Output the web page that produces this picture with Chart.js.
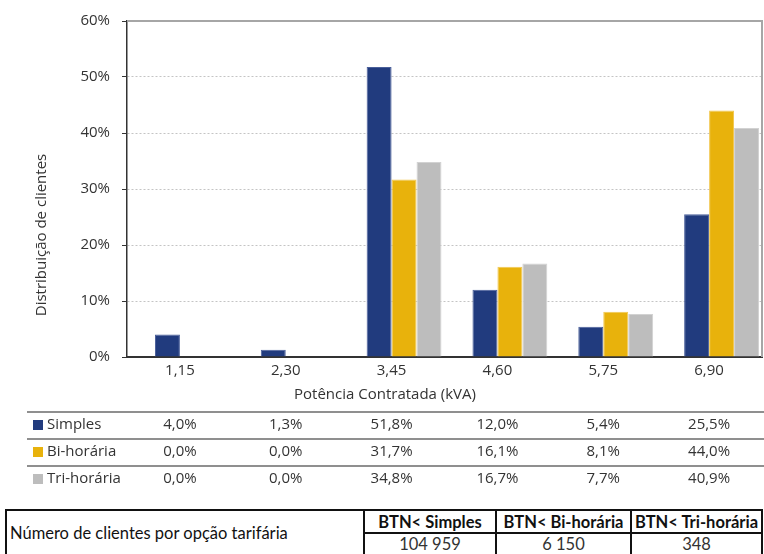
<!DOCTYPE html>
<html lang="pt">
<head>
<meta charset="utf-8">
<title>Distribuição de clientes por potência contratada</title>
<script src="https://cdn.jsdelivr.net/npm/chart.js@4.4.1/dist/chart.umd.min.js"></script>
<style>
  html, body { margin: 0; padding: 0; background: #fff; }
  #wrap { position: relative; width: 764px; height: 554px; overflow: hidden; }
  #grafico { position: absolute; left: 0; top: 0; }
  #clientes {
    position: absolute; left: 5px; top: 509px;
    width: 756px; table-layout: fixed;
    border-collapse: collapse;
    font-family: Lato, "Liberation Sans", sans-serif;
    font-size: 16.5px; color: #111;
  }
  #clientes td { border: 2px solid #111; padding: 0; text-align: center; }
  #clientes td.rotulo { text-align: left; padding-left: 3px; }
  #clientes tr.cab td { height: 21px; font-weight: bold; }
  #clientes tr.cab td.rotulo { font-weight: normal; }
  #clientes tr.val td { height: 20px; color: #333; }
</style>
</head>
<body>
<div id="wrap">
  <canvas id="grafico" width="764" height="500"></canvas>
  <table id="clientes"><colgroup><col style="width:358px"><col style="width:132px"><col style="width:135px"><col style="width:131px"></colgroup></table>
</div>
<script>
// Potência contratada (kVA)
const categorias = ["1,15", "2,30", "3,45", "4,60", "5,75", "6,90"];

// distribuição de clientes (%) por opção tarifária
const simples = [4.0, 1.3, 51.8, 12.0, 5.4, 25.5];
const biHoraria = [0.0, 0.0, 31.7, 16.1, 8.1, 44.0];
const triHoraria = [0.0, 0.0, 34.8, 16.7, 7.7, 40.9];

// coluna vazia que o Excel deixava antes de cada grupo
const vazio = [null, null, null, null, null, null];

const nomesSeries = ["Simples", "Bi-horária", "Tri-horária"];
const coresSeries = ["#213B7E", "#E8B20C", "#BDBDBD"];
const bordasSeries = ["#4A5F9A", "#F2C850", "#D2D2D2"];

const tarifas = ["BTN< Simples", "BTN< Bi-horária", "BTN< Tri-horária"];
const numeroClientes = [104959, 6150, 348];

const FONTE = "'Open Sans', 'DejaVu Sans', sans-serif";
const TAM = 15;
const COR_TEXTO = "#333";

const fmtPct = v => v.toFixed(1).replace(".", ",") + "%";
const fmtMilhar = n => String(n).replace(/\B(?=(\d{3})+(?!\d))/g, " ");

// títulos dos eixos, moldura e tabela de dados por baixo do eixo x
const tabelaDados = {
  id: "tabelaDados",
  afterDraw(chart) {
    const { ctx, chartArea, scales } = chart;
    const series = [simples, biHoraria, triHoraria];
    ctx.save();

    // moldura superior e direita
    ctx.strokeStyle = "#a6a6a6";
    ctx.lineWidth = 2;
    ctx.beginPath();
    ctx.moveTo(chartArea.left, chartArea.top);
    ctx.lineTo(chartArea.right, chartArea.top);
    ctx.lineTo(chartArea.right, chartArea.bottom);
    ctx.stroke();

    ctx.font = TAM + "px " + FONTE;
    ctx.fillStyle = COR_TEXTO;
    ctx.textAlign = "center";
    ctx.textBaseline = "middle";
    ctx.fillText("Potência Contratada (kVA)", 385, 395);

    ctx.save();
    ctx.translate(42, 235);
    ctx.rotate(-Math.PI / 2);
    ctx.fillText("Distribuição de clientes", 0, 0);
    ctx.restore();

    const linhasY = [412, 439, 466];
    ctx.strokeStyle = "#6a6a6a";
    ctx.lineWidth = 1.5;
    linhasY.forEach(y => {
      ctx.beginPath();
      ctx.moveTo(27, y);
      ctx.lineTo(chart.width, y);
      ctx.stroke();
    });

    series.forEach((valores, s) => {
      const y = linhasY[s] + 13;
      ctx.fillStyle = coresSeries[s];
      ctx.fillRect(33, y - 5, 10, 10);
      ctx.fillStyle = COR_TEXTO;
      ctx.textAlign = "left";
      ctx.fillText(nomesSeries[s], 47, y);
      ctx.textAlign = "center";
      valores.forEach((v, i) => {
        ctx.fillText(fmtPct(v), scales.x.getPixelForValue(i), y);
      });
    });
    ctx.restore();
  }
};

const datasets = [{ label: "", data: vazio, backgroundColor: "transparent" }];
[simples, biHoraria, triHoraria].forEach((valores, s) => {
  datasets.push({
    label: nomesSeries[s],
    data: valores,
    backgroundColor: coresSeries[s],
    borderColor: bordasSeries[s],
    borderWidth: 1
  });
});

new Chart(document.getElementById("grafico"), {
  type: "bar",
  data: { labels: categorias, datasets: datasets },
  options: {
    responsive: false,
    animation: false,
    layout: { padding: { top: 15, right: 2, bottom: 95, left: 0 } },
    datasets: { bar: { categoryPercentage: 0.943, barPercentage: 1.0 } },
    plugins: { legend: { display: false }, tooltip: { enabled: false } },
    scales: {
      x: {
        grid: { display: false, drawTicks: false },
        border: { color: "#333", width: 2 },
        ticks: { color: COR_TEXTO, font: { family: FONTE, size: TAM }, padding: 5 },
        afterFit: s => { s.height = 48; }
      },
      y: {
        min: 0,
        max: 60,
        ticks: {
          stepSize: 10,
          color: COR_TEXTO,
          font: { family: FONTE, size: TAM },
          padding: 12,
          callback: v => v + "%"
        },
        grid: {
          color: "#c4c4c4",
          tickLength: 5,
          tickColor: "#333",
          tickBorderDash: []
        },
        border: { color: "#333", width: 1.5, dash: [2, 2] },
        afterFit: s => { s.width = 127; }
      }
    }
  },
  plugins: [tabelaDados]
});

// quadro com o número de clientes por opção tarifária
const tabela = document.getElementById("clientes");
const cab = tabela.insertRow();
cab.className = "cab";
const rot = cab.insertCell();
rot.className = "rotulo";
rot.rowSpan = 2;
rot.textContent = "Número de clientes por opção tarifária";
tarifas.forEach(t => {
  cab.insertCell().textContent = t;
});
const linhaVal = tabela.insertRow();
linhaVal.className = "val";
numeroClientes.forEach(n => {
  linhaVal.insertCell().textContent = fmtMilhar(n);
});
</script>
</body>
</html>
